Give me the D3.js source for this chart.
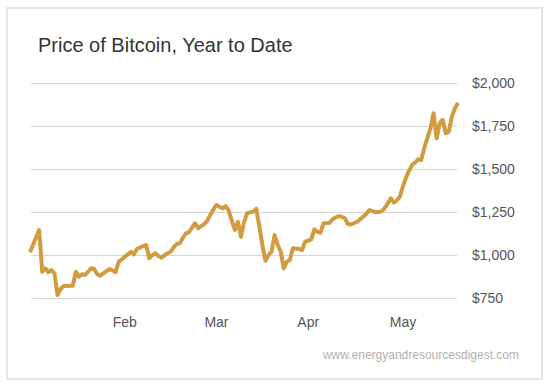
<!DOCTYPE html>
<html lang="en">
<head>
    <meta charset="UTF-8">
    <script src="https://d3js.org/d3.v7.min.js"></script>
    <style>
        body {
            margin: 0;
            padding: 0;
            background: #ffffff;
            font-family: 'Liberation Sans', Arial, sans-serif;
        }
        .grid line {
            stroke: #d6d6d6;
            stroke-width: 1;
        }
        .tick-label {
            font-size: 14px;
            fill: #555555;
        }
    </style>
</head>
<body>
    <div id="chart"></div>
    <script>
        // Data (day index from Jan 1, price in USD)
        const days = [0, 3, 4, 5, 6, 7, 8, 9, 10, 11, 12, 13, 14, 15, 16, 17, 18, 19, 20, 21, 22, 23, 24, 25, 26, 27, 28, 29, 30, 31, 32, 33, 34, 35, 36, 37, 38, 39, 40, 41, 42, 43, 44, 45, 46, 47, 48, 49, 50, 51, 52, 53, 54, 55, 56, 57, 58, 59, 60, 61, 62, 63, 64, 65, 66, 67, 68, 69, 70, 71, 72, 73, 74, 75, 76, 77, 78, 79, 80, 81, 82, 83, 84, 85, 86, 87, 88, 89, 90, 91, 92, 93, 94, 95, 96, 97, 98, 99, 100, 101, 102, 103, 104, 105, 106, 107, 108, 109, 110, 111, 112, 113, 114, 115, 116, 117, 118, 119, 120, 121, 122, 123, 124, 125, 126, 127, 128, 129, 130, 131, 132, 133, 134, 135, 136, 137, 138, 139, 140];
        const prices = [1017, 1146, 904, 924, 901, 914, 895, 769, 804, 821, 822, 823, 823, 904, 875, 889, 885, 905, 924, 920, 890, 881, 895, 908, 920, 912, 901, 962, 975, 991, 1005, 1020, 1005, 1036, 1045, 1053, 1059, 982, 1000, 1011, 995, 985, 1000, 1011, 1020, 1045, 1065, 1069, 1100, 1127, 1133, 1160, 1185, 1156, 1168, 1180, 1200, 1235, 1265, 1291, 1280, 1272, 1285, 1258, 1200, 1146, 1194, 1107, 1190, 1243, 1248, 1252, 1268, 1170, 1060, 968, 1000, 1020, 1117, 1060, 1020, 924, 962, 972, 1040, 1038, 1036, 1030, 1078, 1085, 1092, 1150, 1136, 1130, 1185, 1186, 1188, 1208, 1218, 1227, 1222, 1214, 1181, 1178, 1185, 1194, 1208, 1223, 1240, 1262, 1255, 1250, 1250, 1255, 1272, 1300, 1330, 1305, 1318, 1340, 1400, 1450, 1490, 1523, 1536, 1556, 1552, 1625, 1680, 1736, 1823, 1678, 1765, 1784, 1707, 1716, 1803, 1852, 1884];

        const yTicks = [750, 1000, 1250, 1500, 1750, 2000];
        const monthTicks = [31, 61, 91, 122];
        const monthLabels = ["Feb", "Mar", "Apr", "May"];

        const data = days.map((d, i) => ({day: d, price: prices[i]}));

        const width = 550;
        const height = 385;

        const svg = d3.select("#chart").append("svg")
            .attr("width", width)
            .attr("height", height);

        // card frame
        svg.append("rect")
            .attr("x", 7)
            .attr("y", 8)
            .attr("width", 535)
            .attr("height", 371)
            .attr("fill", "#ffffff")
            .attr("stroke", "#e6e6e6")
            .attr("stroke-width", 2);

        svg.append("text")
            .attr("x", 38)
            .attr("y", 52)
            .attr("font-size", "20px")
            .attr("fill", "#333333")
            .text("Price of Bitcoin, Year to Date");

        const x = d3.scaleLinear()
            .domain([0, 140])
            .range([30, 458]);

        const y = d3.scaleLinear()
            .domain([750, 2000])
            .range([298.3, 82.7]);

        // gridlines
        svg.append("g")
            .attr("class", "grid")
            .selectAll("line")
            .data(yTicks)
            .enter().append("line")
            .attr("x1", 31)
            .attr("x2", 457)
            .attr("y1", d => Math.round(y(d)) + 0.5)
            .attr("y2", d => Math.round(y(d)) + 0.5);

        svg.append("g")
            .selectAll("text")
            .data(yTicks)
            .enter().append("text")
            .attr("class", "tick-label")
            .attr("x", 472)
            .attr("y", d => y(d))
            .attr("dy", "0.35em")
            .text(d => "$" + d3.format(",")(d));

        svg.append("g")
            .selectAll("text")
            .data(monthTicks)
            .enter().append("text")
            .attr("class", "tick-label")
            .attr("x", d => x(d))
            .attr("y", 327)
            .attr("text-anchor", "middle")
            .text((d, i) => monthLabels[i]);

        const line = d3.line()
            .x(d => x(d.day))
            .y(d => y(d.price));

        svg.append("path")
            .datum(data)
            .attr("fill", "none")
            .attr("stroke", "#d19b40")
            .attr("stroke-width", 4)
            .attr("stroke-linejoin", "round")
            .attr("d", line);

        svg.append("text")
            .attr("x", 519)
            .attr("y", 359)
            .attr("text-anchor", "end")
            .attr("font-size", "12px")
            .attr("fill", "#b0b0b0")
            .text("www.energyandresourcesdigest.com");
    </script>
</body>
</html>
